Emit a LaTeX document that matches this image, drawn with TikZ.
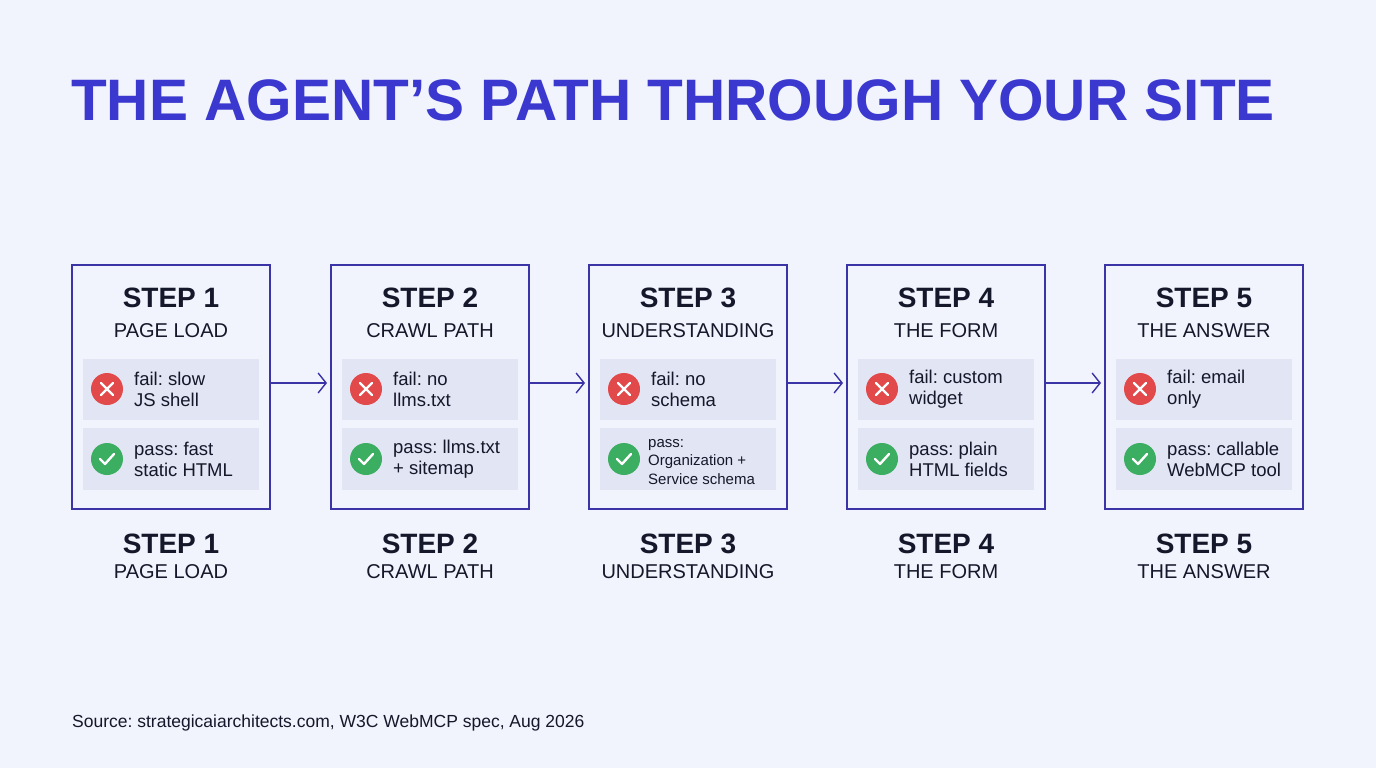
\documentclass[tikz,border=0pt]{standalone}
\usetikzlibrary{arrows.meta}
\usepackage{fontspec}
\setmainfont{Liberation Sans}
\frenchspacing
\begin{document}
\begin{tikzpicture}[x=1pt,y=-1pt,
  box/.style={draw=boxc,line width=1.6pt,fill=bg},
  row/.style={fill=rowc},
  arr/.style={draw=boxc,line width=1.4pt,-{Straight Barb[length=8pt,width=20pt]}},
  txt/.style={anchor=west,align=left,font=\fontsize{18.5}{21}\selectfont,text=ink,inner sep=0pt},
  stp/.style={font=\fontsize{28}{32}\selectfont\bfseries,text=ink},
  sub/.style={font=\fontsize{20}{24}\selectfont,text=ink}]
\definecolor{bg}{HTML}{F1F4FC}
\definecolor{boxc}{HTML}{3A34A6}
\definecolor{rowc}{HTML}{E2E5F3}
\definecolor{ink}{HTML}{15172A}
\definecolor{ttl}{HTML}{3B38CF}
\definecolor{redc}{HTML}{E2494B}
\definecolor{grn}{HTML}{3BAE62}
\fill[bg] (0,0) rectangle (1376,768);
\useasboundingbox (0,0) rectangle (1376,768);
\node[anchor=base west,inner sep=0pt,text=ttl,font=\fontsize{58.5}{64}\selectfont\bfseries] (title) at (71,121) {THE AGENT’S PATH THROUGH YOUR SITE};
\foreach \i/\x/\s/\f/\p in {
 1/72/PAGE LOAD/{fail: slow\\JS shell}/{pass: fast\\static HTML},
 2/331/CRAWL PATH/{fail: no\\llms.txt}/{pass: llms.txt\\+ sitemap},
 3/589/UNDERSTANDING/{fail: no\\schema}/{},
 4/847/THE FORM/{fail: custom\\widget}/{pass: plain\\HTML fields},
 5/1105/THE ANSWER/{fail: email\\only}/{pass: callable\\WebMCP tool}}{
  \draw[box] (\x,265) rectangle ++(198,244);
  \coordinate (L\i) at (\x,383);
  \coordinate (R\i) at (\x+198,383);
  \fill[row] (\x+11,359) rectangle ++(176,61);
  \fill[row] (\x+11,428) rectangle ++(176,62);
  \node[stp] (s\i) at (\x+99,298) {STEP \i};
  \node[sub] (t\i) at (\x+99,331) {\s};
  \node[stp] (bs\i) at (\x+99,544) {STEP \i};
  \node[sub] (bt\i) at (\x+99,572) {\s};
  \fill[redc] (\x+35,389) circle (16);
  \draw[white,line width=2.4pt,line cap=round] (\x+29,383)--(\x+41,395) (\x+41,383)--(\x+29,395);
  \fill[grn] (\x+35,459) circle (16);
  \draw[white,line width=2.4pt,line cap=round,line join=round] (\x+28,459)--(\x+33,464)--(\x+42,454);
  \node[txt] (f\i) at (\x+62,389) {\f};
  \node[txt] (p\i) at (\x+62,459) {\p};
}
\node[txt,font=\fontsize{15}{18.5}\selectfont] (p3b) at (589+59,462) {pass:\\Organization +\\Service schema};
\foreach \a/\b in {1/2,2/3,3/4,4/5}{\draw[arr] (R\a) -- ([xshift=-4pt]L\b);}
\node[anchor=base west,inner sep=0pt,text=ink,font=\fontsize{17.5}{18}\selectfont] (src) at (72,727) {Source: strategicaiarchitects.com, W3C WebMCP spec, Aug 2026};
\end{tikzpicture}
\end{document}
